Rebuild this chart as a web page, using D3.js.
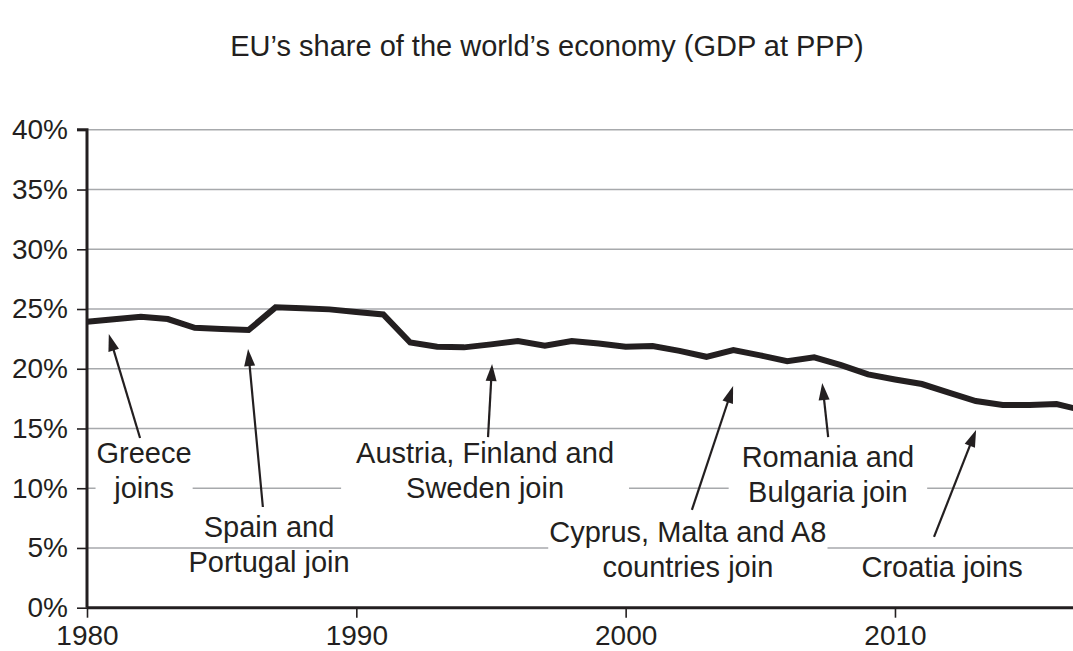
<!DOCTYPE html>
<html><head><meta charset="utf-8">
<script src="https://cdn.jsdelivr.net/npm/d3@7"></script>
<style>body{margin:0;background:#fff}svg{display:block;font-family:"Liberation Sans",Arial,sans-serif}</style>
</head><body><svg id="c" width="1073" height="651"></svg>
<script>
// ---- data ----
const years = [1980,1981,1982,1983,1984,1985,1986,1987,1988,1989,1990,1991,1992,1993,1994,1995,1996,1997,1998,1999,2000,2001,2002,2003,2004,2005,2006,2007,2008,2009,2010,2011,2012,2013,2014,2015,2016,2017];
const share = [23.93,24.15,24.35,24.16,23.43,23.33,23.24,25.14,25.06,24.97,24.75,24.55,22.2,21.84,21.79,22.04,22.32,21.93,22.32,22.12,21.84,21.9,21.5,21.0,21.56,21.12,20.64,20.95,20.3,19.53,19.1,18.72,18.0,17.3,16.96,16.96,17.05,16.5];
const yTicks = [0,5,10,15,20,25,30,35,40];
const xTicks = [1980,1990,2000,2010];
const titleText = "EU’s share of the world’s economy (GDP at PPP)";
const labelLines = [["Greece","joins"],["Spain and","Portugal join"],["Austria, Finland and","Sweden join"],["Cyprus, Malta and A8","countries join"],["Romania and","Bulgaria join"],["Croatia joins"]];
// annotation anchors in data units [year, percent]
const arrowTips  = [[1980.81,22.90],[1985.98,21.65],[1995.04,20.39],[2003.99,18.55],[2007.30,18.80],[2013.01,14.87]];
const arrowTails = [[1981.97,14.20],[1986.53,8.43],[1994.89,14.28],[2002.46,8.18],[2007.52,14.28],[2011.45,5.92]];
const labelAnchors = [[1982.12,12.11],[1986.76,5.91],[1994.78,12.11],[2002.31,5.50],[2007.51,11.77],[2011.75,2.57]];

// ---- layout ----
const svg = d3.select("#c");
const ink = "#231f20", grid = "#a7a9ac";
const fs = 28, lfs = 29;
const x = d3.scaleLinear().domain([1980, 2017]).range([87, 1083.5]);
const y = d3.scaleLinear().domain([0, 40]).range([607.7, 129.8]);
const boxPad = [1, null, 15, 1, 13, null];

svg.append("text").attr("x", 547).attr("y", 56).attr("text-anchor", "middle")
  .attr("font-size", lfs).attr("fill", ink).text(titleText);

// gridlines
svg.append("g").selectAll("line").data(yTicks.filter(d => d > 0)).join("line")
  .attr("x1", x(1980)).attr("x2", x(2017)).attr("y1", d => y(d)).attr("y2", d => y(d))
  .attr("stroke", grid).attr("stroke-width", 1.5);

// label groups (white backgrounds)
const lblG = svg.append("g");
const labels = labelLines.map((lines, i) => {
  const g = lblG.append("g");
  const t = g.append("text").attr("text-anchor", "middle").attr("font-size", lfs).attr("fill", ink);
  lines.forEach((ln, j) => t.append("tspan").attr("x", x(labelAnchors[i][0]))
    .attr("y", y(labelAnchors[i][1]) + j * 35).text(ln));
  return {g, t};
});

// axes
const yAxis = svg.append("g").attr("transform", `translate(${x(1980)},0)`)
  .call(d3.axisLeft(y).tickValues(yTicks).tickFormat(d => d + "%").tickSize(10).tickPadding(9));
const xAxis = svg.append("g").attr("transform", `translate(0,${y(0)})`)
  .call(d3.axisBottom(x).tickValues(xTicks).tickFormat(d3.format("d")).tickSize(10).tickPadding(7));
[yAxis, xAxis].forEach(a => {
  a.select(".domain").attr("stroke", ink).attr("stroke-width", 3);
  a.selectAll(".tick line").attr("stroke", ink).attr("stroke-width", 1.6);
  a.selectAll(".tick text").attr("font-size", fs).attr("fill", ink)
    .attr("font-family", '"Liberation Sans",Arial,sans-serif');
});
yAxis.select(".domain").attr("d", `M-10,${y(40)}H0V${y(0)}`);
xAxis.select(".domain").attr("d", `M${x(1980)},0H${x(2017)}`);

// data line
svg.append("path").datum(years.map((yr, i) => [yr, share[i]]))
  .attr("fill", "none").attr("stroke", ink).attr("stroke-width", 6).attr("stroke-linejoin", "miter")
  .attr("d", d3.line().x(d => x(d[0])).y(d => y(d[1])));

// backgrounds behind labels
labels.forEach((l, i) => {
  if (boxPad[i] == null) return;
  const b = l.t.node().getBBox();
  l.g.insert("rect", "text").attr("x", b.x - boxPad[i]).attr("y", b.y + 2)
    .attr("width", b.width + 2 * boxPad[i]).attr("height", b.height).attr("fill", "#fff");
});
lblG.raise();
svg.node().appendChild(yAxis.node());
svg.node().appendChild(xAxis.node());

// arrows
const arrG = svg.append("g");
arrowTips.forEach((tp, i) => {
  const [x1, y1] = [x(arrowTails[i][0]), y(arrowTails[i][1])];
  const [x2, y2] = [x(tp[0]), y(tp[1])];
  const dx = x2 - x1, dy = y2 - y1, len = Math.hypot(dx, dy);
  const ux = dx / len, uy = dy / len, L = 17, W = 5.5;
  const bx = x2 - ux * L, by = y2 - uy * L;
  arrG.append("line").attr("x1", x1).attr("y1", y1).attr("x2", bx + ux).attr("y2", by + uy)
    .attr("stroke", ink).attr("stroke-width", 2.2);
  arrG.append("path").attr("fill", ink)
    .attr("d", `M${x2},${y2}L${bx - uy * W},${by + ux * W}L${bx + uy * W},${by - ux * W}Z`);
});
</script></body></html>
